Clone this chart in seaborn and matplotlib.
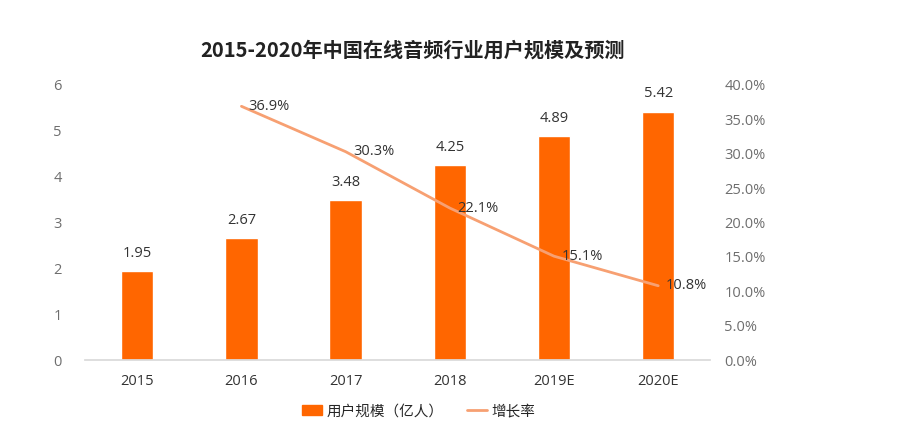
import matplotlib
matplotlib.use("Agg")
import matplotlib.pyplot as plt
import seaborn as sns
import pandas as pd
from matplotlib.ticker import PercentFormatter
from matplotlib.patches import Patch
from matplotlib.lines import Line2D

# ---- data ----
years = ["2015", "2016", "2017", "2018", "2019E", "2020E"]
users = [1.95, 2.67, 3.48, 4.25, 4.89, 5.42]          # 亿人
growth = [None, 36.9, 30.3, 22.1, 15.1, 10.8]          # %

bar_color = "#FF6600"
line_color = "#F7A072"
tick_color = "#6E6E6E"

sns.set_theme(style="white")
plt.rcParams["font.family"] = ["Open Sans", "Noto Sans CJK SC", "DejaVu Sans"]

df = pd.DataFrame({"year": years, "users": users, "growth": growth})

fig = plt.figure(figsize=(9.06, 4.45), dpi=100)
ax = fig.add_axes([0.094, 0.191, 0.69, 0.618])

sns.barplot(data=df, x="year", y="users", color=bar_color, width=0.31,
            saturation=1, ax=ax)
ax.set_ylim(0, 6)
ax.set_yticks(range(0, 7))
ax.set_xlabel("")
ax.set_ylabel("")
for i, v in enumerate(users):
    ax.text(i, v + 0.22, f"{v:.2f}", ha="center", va="bottom",
            fontsize=10.5, color="#333333")

ax2 = ax.twinx()
g = df.dropna()
sns.lineplot(x=g.index, y=g["growth"], color=line_color, linewidth=2, ax=ax2)
ax2.set_ylim(0, 40)
ax2.set_yticks(range(0, 41, 5))
ax2.yaxis.set_major_formatter(PercentFormatter(decimals=1))
ax2.set_ylabel("")
for i, v in zip(g.index, g["growth"]):
    ax2.text(i + 0.07, v, f"{v:.1f}%", ha="left", va="center",
             fontsize=10.5, color="#333333")

ax.set_xlim(-0.5, len(years) - 0.5)
for a in (ax, ax2):
    for s in ["top", "right", "left"]:
        a.spines[s].set_visible(False)
    a.spines["bottom"].set_color("#D9D9D9")
    a.tick_params(length=0, labelsize=10.5, colors=tick_color, pad=10)
ax2.spines["bottom"].set_visible(False)
ax.tick_params(axis="x", colors="#333333", pad=10)
ax.tick_params(axis="y", pad=17)

fig.suptitle("2015-2020年中国在线音频行业用户规模及预测", x=0.455, y=0.91,
             fontsize=14.5, fontweight="bold", color="#222222",
             family=["Noto Sans CJK SC", "DejaVu Sans"])

handles = [Patch(color=bar_color, label="用户规模（亿人）"),
           Line2D([0], [0], color=line_color, linewidth=2, label="增长率")]
fig.legend(handles=handles, loc="center", bbox_to_anchor=(0.462, 0.075),
           ncol=2, frameon=False, fontsize=10.5, handlelength=1.4,
           columnspacing=1.6, handletextpad=0.3)

fig.savefig("out.png", dpi=100)
